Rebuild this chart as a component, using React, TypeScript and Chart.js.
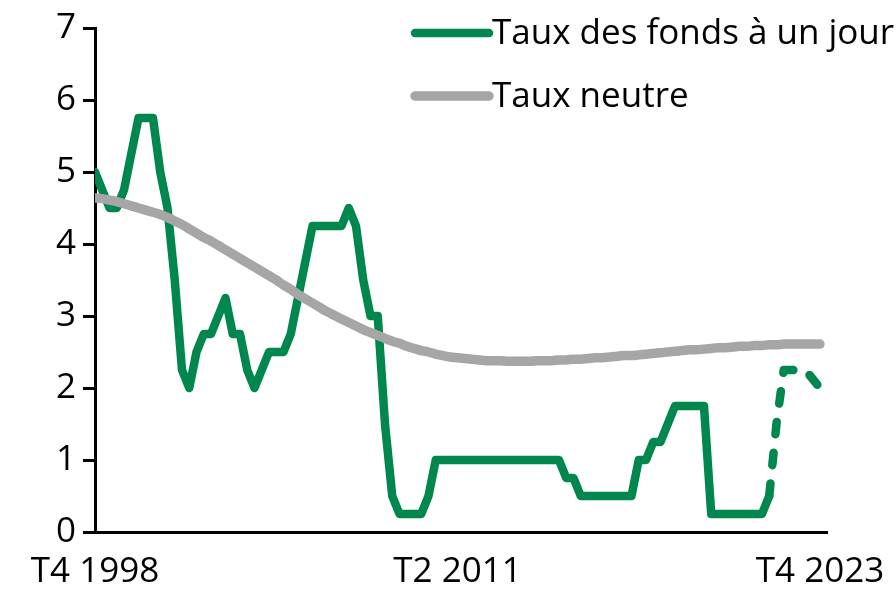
import React, { useEffect, useRef } from 'react';
import { Chart, registerables } from 'chart.js';

Chart.register(...registerables);

// Quarter labels T4 1998 .. T4 2023 (101 quarters)
const QUARTERS: string[] = (() => {
  const out: string[] = [];
  let q = 4;
  let y = 1998;
  for (let i = 0; i < 101; i++) {
    out.push(`T${q} ${y}`);
    q += 1;
    if (q > 4) { q = 1; y += 1; }
  }
  return out;
})();

const X_TICK_INDEX = [0, 50, 100];

// Taux des fonds à un jour (observed), T4 1998 .. T1 2022
const OVERNIGHT_ACTUAL = [
  5.0, 4.75, 4.5, 4.5, 4.75, 5.25, 5.75, 5.75, 5.75, 5.0,
  4.5, 3.5, 2.25, 2.0, 2.5, 2.75, 2.75, 3.0, 3.25, 2.75,
  2.75, 2.25, 2.0, 2.25, 2.5, 2.5, 2.5, 2.75, 3.25, 3.75,
  4.25, 4.25, 4.25, 4.25, 4.25, 4.5, 4.25, 3.5, 3.0, 3.0,
  1.5, 0.5, 0.25, 0.25, 0.25, 0.25, 0.5, 1.0, 1.0, 1.0,
  1.0, 1.0, 1.0, 1.0, 1.0, 1.0, 1.0, 1.0, 1.0, 1.0,
  1.0, 1.0, 1.0, 1.0, 1.0, 0.75, 0.75, 0.5, 0.5, 0.5,
  0.5, 0.5, 0.5, 0.5, 0.5, 1.0, 1.0, 1.25, 1.25, 1.5,
  1.75, 1.75, 1.75, 1.75, 1.75, 0.25, 0.25, 0.25, 0.25, 0.25,
  0.25, 0.25, 0.25, 0.5,
];

// Forecast (dashed), T1 2022 .. T4 2023
const OVERNIGHT_FORECAST_START = 93;
const OVERNIGHT_FORECAST = [0.5, 1.5, 2.25, 2.25, 2.25, 2.25, 2.125, 2.0];

// Taux neutre, T4 1998 .. T4 2023
const NEUTRAL = [
  4.64, 4.63, 4.61, 4.59, 4.56, 4.53, 4.50, 4.47, 4.44, 4.41,
  4.37, 4.32, 4.27, 4.21, 4.15, 4.09, 4.04, 3.98, 3.92, 3.86,
  3.80, 3.74, 3.68, 3.62, 3.56, 3.50, 3.43, 3.37, 3.30, 3.24,
  3.18, 3.12, 3.06, 3.01, 2.96, 2.91, 2.86, 2.81, 2.77, 2.73,
  2.69, 2.65, 2.62, 2.58, 2.55, 2.52, 2.50, 2.47, 2.45, 2.43,
  2.42, 2.41, 2.40, 2.39, 2.38, 2.38, 2.38, 2.37, 2.37, 2.37,
  2.37, 2.38, 2.38, 2.38, 2.39, 2.39, 2.40, 2.40, 2.41, 2.42,
  2.42, 2.43, 2.44, 2.45, 2.45, 2.46, 2.47, 2.48, 2.49, 2.50,
  2.51, 2.52, 2.53, 2.53, 2.54, 2.55, 2.56, 2.56, 2.57, 2.58,
  2.58, 2.59, 2.59, 2.60, 2.60, 2.61, 2.61, 2.61, 2.61, 2.61,
  2.61,
];

const LEGEND_LABELS = ['Taux des fonds à un jour', 'Taux neutre'];

const GREEN = '#00874E';
const GRAY = '#A6A6A6';
const FONT_FAMILY = "'Open Sans', 'Noto Sans', sans-serif";
const FONT_SIZE = 35;
const LINE_W = 8.5;
const GRAY_W = 9.5;

const toPoints = (vals: number[], start = 0) => vals.map((v, i) => ({ x: start + i, y: v }));

const insideLegend = {
  id: 'insideLegend',
  afterDraw(chart: any) {
    const ctx = chart.ctx as CanvasRenderingContext2D;
    const items = chart.data.datasets.filter((d: any) => d.inLegend);
    items.sort((a: any, b: any) => a.legendRank - b.legendRank);
    const x0 = 415;
    const x1 = 489;
    const rows = [33, 96];
    ctx.save();
    items.forEach((d: any, i: number) => {
      const y = rows[i];
      ctx.beginPath();
      ctx.strokeStyle = d.borderColor;
      ctx.lineWidth = d.borderWidth;
      ctx.lineCap = 'round';
      ctx.moveTo(x0, y);
      ctx.lineTo(x1, y);
      ctx.stroke();
      ctx.fillStyle = '#000';
      ctx.font = `${FONT_SIZE}px ${FONT_FAMILY}`;
      ctx.textBaseline = 'middle';
      ctx.textAlign = 'left';
      ctx.fillText(d.label, 492, y + 1);
    });
    ctx.restore();
  },
};

export default function App() {
  const ref = useRef<HTMLCanvasElement | null>(null);

  useEffect(() => {
    document.body.style.margin = '0';
    if (!ref.current) return;
    const font = { family: FONT_FAMILY, size: FONT_SIZE };
    const chart = new Chart(ref.current, {
      type: 'line',
      data: {
        datasets: [
          {
            label: LEGEND_LABELS[0],
            data: toPoints(OVERNIGHT_ACTUAL),
            borderColor: GREEN,
            borderWidth: LINE_W,
            order: 2,
            inLegend: true,
            legendRank: 0,
          } as any,
          {
            label: LEGEND_LABELS[0] + ' (prévision)',
            data: toPoints(OVERNIGHT_FORECAST, OVERNIGHT_FORECAST_START),
            borderColor: GREEN,
            borderWidth: LINE_W,
            borderDash: [12.5, 18.5],
            order: 3,
            inLegend: false,
          } as any,
          {
            label: LEGEND_LABELS[1],
            data: toPoints(NEUTRAL),
            borderColor: GRAY,
            borderWidth: GRAY_W,
            cubicInterpolationMode: 'monotone',
            order: 1,
            inLegend: true,
            legendRank: 1,
          } as any,
        ],
      },
      options: {
        animation: false,
        responsive: true,
        maintainAspectRatio: false,
        elements: {
          point: { radius: 0, hoverRadius: 0 },
          line: { tension: 0, borderJoinStyle: 'round', borderCapStyle: 'round', fill: false },
        },
        layout: { padding: { top: 25, right: 69, left: 0, bottom: 0 } },
        plugins: {
          legend: { display: false },
          tooltip: { enabled: false },
        },
        scales: {
          x: {
            type: 'linear',
            min: 0,
            max: 100.97,
            afterBuildTicks: (s: any) => {
              s.ticks = X_TICK_INDEX.map((v) => ({ value: v }));
            },
            afterFit: (s: any) => { s.height = 57; },
            ticks: {
              autoSkip: false,
              maxRotation: 0,
              padding: 4,
              color: '#000',
              font,
              callback: (v: any) => QUARTERS[Number(v)] ?? '',
            },
            grid: {
              display: true,
              drawOnChartArea: false,
              drawTicks: true,
              tickLength: 15,
              tickColor: 'rgba(0,0,0,0)',
              color: 'rgba(0,0,0,0)',
            },
            border: { display: true, color: '#000', width: 3 },
          },
          y: {
            min: 0,
            max: 7,
            afterFit: (s: any) => { s.width = 95; },
            ticks: { stepSize: 1, padding: 7, color: '#000', font },
            grid: {
              display: true,
              drawOnChartArea: false,
              drawTicks: true,
              tickLength: 12,
              tickWidth: 3,
              tickColor: '#000',
              color: '#000',
              lineWidth: 3,
            },
            border: { display: true, color: '#000', width: 3 },
          },
        },
      } as any,
      plugins: [insideLegend],
    });
    return () => chart.destroy();
  }, []);

  return (
    <div style={{ position: 'relative', width: 896, height: 589 }}>
      <canvas ref={ref} />
    </div>
  );
}
